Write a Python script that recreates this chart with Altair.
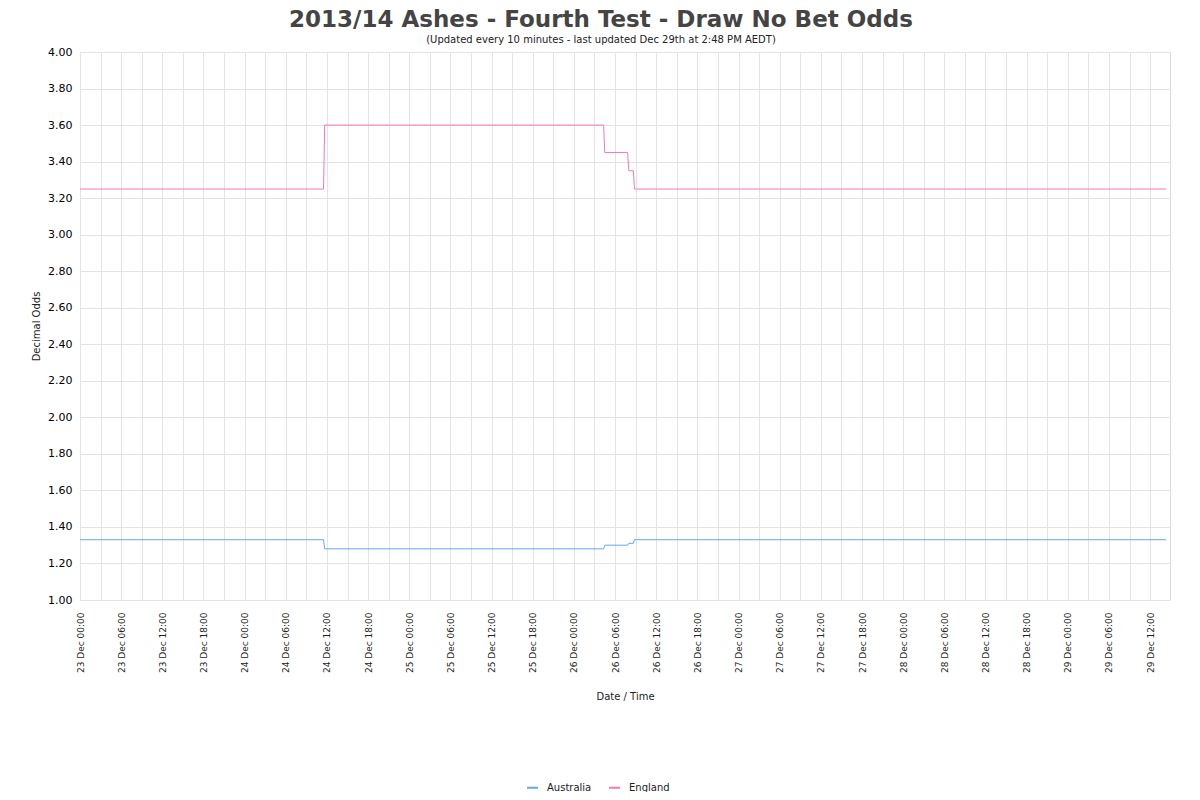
import altair as alt
import pandas as pd

times = [
    "2013-12-23 00:00", "2013-12-24 11:30", "2013-12-24 11:40",
    "2013-12-26 04:20", "2013-12-26 04:30", "2013-12-26 07:50",
    "2013-12-26 08:00", "2013-12-26 08:40", "2013-12-26 08:50",
    "2013-12-29 14:20",
]
australia = [1.33, 1.33, 1.28, 1.28, 1.30, 1.30, 1.31, 1.31, 1.33, 1.33]
england = [3.25, 3.25, 3.60, 3.60, 3.45, 3.45, 3.35, 3.35, 3.25, 3.25]
teams = ["Australia", "England"]
colors = ["#62a8ee", "#ee7bb6"]
start = "2013-12-23 00:00"
end = "2013-12-29 14:54"

t0 = pd.Timestamp(start)
def hrs(s):
    return (pd.Timestamp(s) - t0).total_seconds() / 3600.0

rows = []
for t, a, e in zip(times, australia, england):
    rows.append({"h": hrs(t), "team": "Australia", "odds": a})
    rows.append({"h": hrs(t), "team": "England", "odds": e})
df = pd.DataFrame(rows)

FONT = "DejaVu Sans"
x_ticks = list(range(0, int(hrs(end)) + 1, 3))
y_ticks = [round(1.0 + 0.2 * i, 2) for i in range(16)]

x_axis = alt.Axis(
    title="Date / Time",
    values=x_ticks,
    labelExpr="datum.value % 6 == 0 ? (23 + floor(datum.value / 24)) + ' Dec ' + ((datum.value % 24) < 10 ? '0' : '') + (datum.value % 24) + ':00' : ''",
    labelAngle=-90,
    labelFontSize=9,
    labelColor="#222",
    labelPadding=12,
    labelFlush=False,
    labelOverlap=False,
    ticks=False,
    domain=False,
    grid=True,
    gridColor="#e3e3e3",
    titleFontSize=10,
    titleFontWeight="normal",
    titleColor="#222",
    titlePadding=19,
)

y_axis = alt.Axis(
    title="Decimal Odds",
    values=y_ticks,
    format=".2f",
    labelFontSize=11,
    labelColor="#000",
    labelPadding=8,
    ticks=False,
    domain=False,
    grid=True,
    gridColor="#e3e3e3",
    titleFontSize=10,
    titleFontWeight="normal",
    titleColor="#222",
    titlePadding=6,
)

chart = (
    alt.Chart(df)
    .mark_line(strokeWidth=1)
    .encode(
        x=alt.X("h:Q", scale=alt.Scale(domain=[0, hrs(end)], nice=False, zero=False), axis=x_axis),
        y=alt.Y("odds:Q", scale=alt.Scale(domain=[1.0, 4.0], nice=False, zero=False), axis=y_axis),
        color=alt.Color(
            "team:N",
            scale=alt.Scale(domain=teams, range=colors),
            legend=alt.Legend(
                title=None,
                orient="none",
                legendX=446,
                legendY=729,
                direction="horizontal",
                symbolType="stroke",
                symbolSize=120,
                symbolStrokeWidth=2,
                labelFontSize=10,
                labelColor="#222",
                labelOffset=8,
                columnPadding=13,
            ),
        ),
    )
    .properties(
        width=1090,
        height=548,
        autosize=alt.AutoSizeParams(type="none"),
        padding={"left": 72, "top": 44, "right": 22, "bottom": 192},
        title=alt.TitleParams(
            text="2013/14 Ashes - Fourth Test - Draw No Bet Odds",
            subtitle="(Updated every 10 minutes - last updated Dec 29th at 2:48 PM AEDT)",
            font=FONT,
            fontSize=23,
            fontWeight="bold",
            color="#444",
            subtitleFont=FONT,
            subtitleFontSize=10,
            subtitleColor="#222",
            subtitlePadding=3,
            anchor="middle",
            dx=-24,
            offset=1,
        ),
    )
    .configure(font=FONT)
    .configure_view(stroke="#dcdcdc")
)

chart.save("out.html", embed_options={"renderer": "svg", "actions": False})
